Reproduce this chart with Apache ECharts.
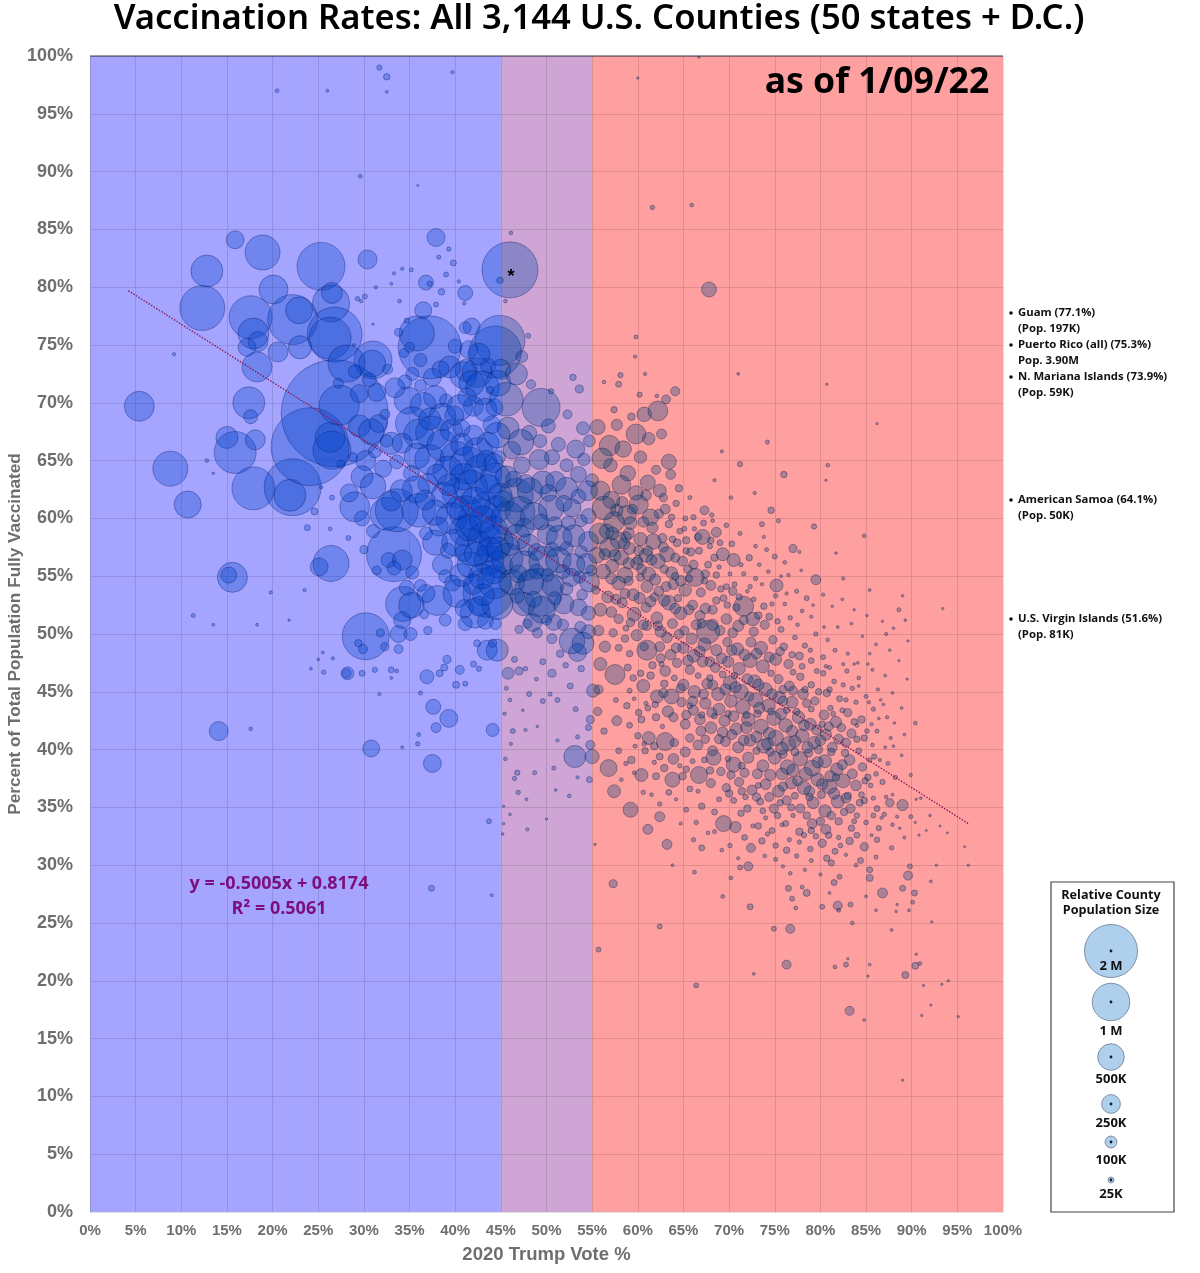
<!DOCTYPE html>
<html>
<head>
<meta charset="utf-8">
<title>Vaccination Rates</title>
<script src="https://cdn.jsdelivr.net/npm/echarts@6/dist/echarts.min.js"></script>
<style>
html,body{margin:0;padding:0;background:#fff;}
#main{width:1200px;height:1273px;}
</style>
</head>
<body>
<div id="main"></div>
<script>
// each county: [trump vote %, fully vaccinated %, population in thousands]
var bigCounties = [
[15.9,84.1,230],[18.9,83,872],[12.8,81.4,730],[25.3,81.8,1640],[30.4,82.4,257],[12.3,78.2,1440],[17.6,77.4,1316],[20.1,79.8,600],[22.2,77.2,1780],[22.9,78,520],[26.4,78.6,975],[26.5,79.5,314],[26.8,75.9,2150],[26.3,75.6,1256],[17.9,76,684],[18.4,75.3,285],[17.2,74.8,230],[20.6,74.4,285],[23,74.8,377],[18.3,73.1,640],[5.4,69.7,640],[17.4,70,730],[17.6,68.8,140],[15,67,345],[15.9,65.7,1256],[18.1,66.8,285],[8.8,64.3,872],[10.7,61.2,520],[17.9,62.6,1316],[22.2,62.7,2310],[21.9,62,730],[26.8,69.1,8150],[24.1,66.2,4330],[27.3,69.8,1140],[26.3,67,640],[26.5,65.9,1028],[31,73.7,1028],[28.1,73.4,975],[30.9,73.4,520],[37.2,74.8,2826],[35.8,76,872],[44.4,74.4,1925],[44.9,75.4,1780],[36.5,78,205],[37.9,84.3,230],[41.8,76.6,205],[41.1,79.5,160],[36.8,80.4,160],[46,81.5,2233],[40.9,72.4,520],
[33.3,56.9,2150],[30.2,49.8,1570],[34.3,52.6,872],[37.8,57.9,445],[38,52.9,640],[43.6,53.6,1780],[49.1,53.6,1640],[40.7,55.1,377],[40.2,53.5,558],[42.2,51.8,640],[32.7,56.4,160],[32.5,60.4,775],[33.6,60.7,1316],[29,61,640],[42,57.5,975],[42.7,59.8,1316],[44.6,48.6,345],[43.5,48.6,285],[33.8,50,205],[26.4,56.1,920],[25.1,55.8,230],[15.6,54.9,640],[15.2,55.1,182],[67.8,79.8,160],[49.4,69.6,1028],[53.1,39.4,345],[14.1,41.6,257],[30.8,40.1,205],[37.5,38.8,230],[37.6,43.7,160],[39.3,42.7,230],[37.9,41.9,71],[44.1,41.7,120],[36.9,46.3,140],[28.2,46.6,120]
];
var blueCluster = [
[29.5,68,345],[30.8,67.5,460],[31.6,68.2,230],[33,66.5,345],[30.2,65,285],[32.1,64.3,205],[29.8,63.6,345],[31,62.8,460],[28.4,62.2,230],[34.8,70.2,520],[35.3,68.2,800],[36.5,69.8,460],[37.8,70.5,377],[36,67.3,640],[37.5,67.4,800],[38.6,68.8,520],[34.2,66.5,285],[35.8,65.4,460],[37.2,65.1,640],[38.6,66.3,700],[39.6,67.6,345],[40.2,65.2,800],[41.4,64.6,975],[39.2,64.1,640],[42.5,65.7,640],[43.6,66.5,345],[44.6,67.2,460],[43,63.9,1028],[44.4,63.5,640],[41.7,62.7,800],[40.2,62.2,640],[38.8,62,460],[37,63,285],[35.7,62.5,520],[34.1,62.4,345],[33,61.5,285],[36,60.7,800],[37.8,60.5,460],[39.6,60,700],[41.2,60.5,800],[43.4,61,640],[44.6,60.8,520],[41,58.9,640],[43.2,58.2,800],[44.5,58,800],[40,57.9,520],[38.6,56,285],[41.6,56,460],[43.7,56.4,640],[44.8,56,520],[42.9,55,460],[44.3,54.5,800],[44.6,52.6,700],[41,52.2,230],[42.6,52.4,285],[36.8,53.5,230],[35.2,52.5,460],[34.2,51.2,205],[34.7,54,160],[35.3,55.3,120],[34.2,56.4,285],[33.3,55.7,140],[31.4,55.5,58],[40.5,46.9,58],[39.1,47.8,46],[41.2,72.8,345],[42.4,72.6,640],[41.8,71.7,460],[43,71.3,800],[44.7,71.7,460],[39.4,73.1,345],[38.4,72.9,205],[37.5,72.2,230],[35.3,72.5,120],[34.5,71.8,140],[33.4,71.3,285],[31.4,70.9,230],[30.6,72,140],[29.5,70.8,230],[29,72.7,120],[27.2,71.7,71],[32.6,72.9,71],[34.4,74.3,58],[33.8,76.1,46],[36.2,73.7,120],[35,74.8,71],[40,74.9,140],[41.5,74.6,230],[42.6,74.2,345],[43.6,73.2,160],[45,72.9,285],[39,70.2,120],[40.5,69.6,460],[42,69.7,285],[43.3,69.4,377],[44.3,69.6,205],[44.8,65.3,120],[42,67.2,285],[40.7,67.8,205],[36.2,71.5,100],[32.3,69,71],[31.2,65.8,120],[28.8,65.3,58],[27.5,64.7,46],[26.5,61.8,18],[29.8,60,160],[31,58.9,120],[30,57.3,46],[28.3,58.3,18],[23.8,59.2,26],[24.6,60.6,35],[39.7,54.4,180],[38.9,55,120],[36.2,54.2,100],[36.6,51.7,58],[35.1,50,120],[37,50.3,46],[38.9,51.2,100],[41.1,50.9,140],[43.3,51.1,180],[44.4,50.9,100],[44.1,49.2,46],[42.4,49.2,35],[42,47.4,26],[41.1,45.7,18],[42.6,47,20],[40.1,45.6,35],[38.3,46.6,35],[38.8,47.1,35],[36.2,44.9,12],[36,41.3,11],[35.9,40.5,14],[34.2,40.2,6],[33,46.9,26],[33.8,48.7,58],[32.3,48.9,46],[31.8,50.1,46],[29.9,48.7,60],[29.4,49.2,40],[25.6,46.7,14],[26.6,47.9,8],[25.5,48.4,6],[28.1,46.6,60],[29.8,46.6,26],[31.2,46.9,20],[31.7,44.8,8],[33,46.2,6],[33.6,46.8,10],[24.2,47,6],[25,47.8,6],[19.8,53.6,8],[23.5,53.8,8],[41.1,76.5,100],[43.8,71.1,40],[38.5,79.6,30],[39.8,82.1,26],[35.2,81.5,12],[33.3,81.2,8],[34.2,81.6,8],[33,80.3,6],[31.3,80,8],[30.1,79.2,18],[29.3,79,14],[29.7,78.8,8],[31,76.8,4],[28.9,75,6],[33.9,78.8,10],[34.7,77.1,20],[37.9,78.5,18],[37.2,80.3,20],[39,81.1,18],[38.2,82.6,12],[40.4,80.5,8],
[40.9,63.6,500],[42.2,61.4,640],[43.6,62.7,460],[44.9,62,420],[40.3,60.9,380],[41.5,59.2,500],[43,59.9,520],[44.2,59,560],[42.3,56.9,420],[43.8,57.3,440],[44.7,57.4,380],[42,54.3,300],[43.1,53.4,340],[44.2,55.4,420],[38,63.8,300],[39.3,62.9,340],[36.7,61.6,280],[38.2,59.3,260],[40.7,66.4,340],[43.4,65,300],[44.2,64.8,260],[37.2,68.6,340],[39.9,68.9,260],[41.3,70.5,240],[44,68.1,220],[35.2,63.9,180],[33.6,64.9,140],[32.5,66.7,110],[36.8,58.7,120],[39.2,57.2,160],[40.9,57,200]
];
var swingCounties = [
[45.6,70.3,800],[46.7,72.5,345],[48,75.8,18],[47.3,74,100],[48.3,71.6,60],[45.8,67.8,345],[47.2,66.6,460],[49.3,66.7,120],[50.2,68,140],[52.3,69,58],[53.6,71.2,46],[52.9,72.2,30],[50.5,71,20],[54,67.8,120],[53.2,66,230],[51.3,66.4,140],[54.7,66.7,100],[49.2,65.1,285],[47.3,64.6,200],[45.6,63.6,345],[46.7,62,800],[48.2,62.4,460],[49.6,63.1,377],[51,63.2,285],[52.2,62.6,345],[53.5,63.8,180],[54.5,62.4,285],[50.5,60.9,460],[52.8,60.9,230],[54.6,60.2,160],[45.8,60,800],[47.1,60.6,640],[48.6,60.2,520],[46.8,58.4,460],[48,57.7,345],[50.1,58.6,285],[51.4,58.3,460],[53,58.5,345],[54.6,58,285],[45.7,56.5,700],[47.6,55.9,640],[49.7,56.3,640],[51.3,56.4,460],[53,56,345],[54.4,56.1,285],[46.2,54.5,460],[48.3,54.5,460],[50.7,54.2,345],[52.7,54.9,230],[54.7,54.5,285],[47.5,52.6,377],[49.5,52.1,520],[51.9,52.6,285],[53.5,52.3,200],[54.6,51.8,140],[48.5,51,230],[50.8,51,180],[52.8,49.4,460],[54,49.2,345],[53.4,48.4,230],[54.6,50.2,140],[47,50.4,46],[49,50.1,71],[50.6,49.6,71],[45.8,46.6,100],[47,46.8,46],[46.5,47.8,26],[50.6,46.6,46],[52.6,45.5,26],[55.1,45.1,120],[48.1,44.8,18],[50.4,44.8,12],[49.6,44.2,18],[51.2,44.3,18],[53.2,43.5,18],[54.8,42.6,46],[54.6,41.9,26],[53.4,41.1,12],[54.8,40.4,60],[55,39.4,140],[54.7,37.4,26],[50.8,38.4,12],[48.7,38,12],[46.8,38,20],[46.5,37.5,14],[46.9,36.3,14],[47.8,35.7,6],[45.3,35.1,4],[46,34.4,5],[50,34,4],[45.3,33.6,5],[51,36.5,5],[53.4,37.6,8],[52.5,36,10],[46.3,41.6,18],[46.1,40.5,8],[45.5,39.2,10],[47.7,41.7,8],[49,42,5],[51.2,40.8,8],[45.4,43.1,8],[46,44.3,10],[47.4,43.4,5],
[46.2,65.9,220],[48.1,67.4,160],[50.6,65.3,160],[52.2,64.6,120],[54.1,65.1,110],[46.4,63.4,180],[47.7,63,240],[50.2,62.2,200],[51.9,61.3,180],[53.5,61.9,150],[55,63.3,120],[45.3,61.5,300],[47.6,59.2,240],[49.4,59.7,180],[50.9,59.5,160],[52.4,59.6,140],[53.8,59.8,100],[46,57.6,260],[48.9,57.1,200],[50.6,57.3,150],[52.2,57.4,130],[53.8,57.1,110],[46.9,55.2,220],[48.9,55.4,160],[50.1,55.1,120],[51.8,55.4,140],[53.6,54.9,100],[54.9,55.5,80],[46.8,53.3,150],[48.6,53,180],[50.9,53.1,120],[52.2,53.9,110],[53.9,53.4,80],[47.9,50.9,60],[50,51.2,70],[51.8,50.8,90],[53.7,50.6,90],[51.5,48.3,40],[49.6,47.6,26],[52.1,47.3,22],[53.8,47,30],[47.7,47,14],[48.9,46.1,10],[45.6,45.3,12]
];
var redCounties = [
[55.6,67.9,160],[56.9,66.3,300],[57.7,68.1,90],[58.4,66,190],[59.8,67.3,280],[60.7,69,150],[61.2,66.9,110],[62.2,69.3,280],[63.1,70.3,55],[60.2,70.7,20],[58.1,72.4,20],[57.9,71.6,26],[57.4,69.4,28],[56.3,71.8,10],[59.3,68.8,40],[62.6,67.3,70],[63.4,64.9,160],[62,64.2,60],[60.3,65.3,110],[58.9,63.9,170],[57,64.6,130],[56.1,65.2,300],[55.9,62.4,260],[57.1,61.6,210],[58.2,62.9,250],[59.8,62.2,150],[61.1,63.1,160],[62.4,62.4,120],[63.6,63.8,70],[64.2,61.3,30],[65.7,61.8,12],[67.3,60.7,55],[68.1,60.3,14],[66.1,60.1,20],[63,60.8,70],[61.4,60.1,190],[60.1,61.2,260],[58.8,60.3,260],[57.4,59.7,300],[56.3,60.9,400],
[55.8,58.7,300],[56.6,58.9,150],[57.9,58.1,200],[59.2,59.6,120],[60.3,58.2,130],[61.6,59.2,90],[62.7,58.3,60],[63.4,59.5,40],[64.6,58.9,25],[65.2,60,18],[66.6,58.4,40],[67.2,59.6,25],[68.6,58.8,70],[69.7,59.4,16],[70.3,57.8,25],[71.2,58.7,12],[65.8,57.1,50],[64.3,57.9,45],[63.2,56.9,160],[61.7,58,170],[60.9,56.8,130],[59.1,57.4,100],[58.2,56.6,150],[56.9,57.5,280],[55.5,56.8,180],[56.2,55.4,150],[57.2,55.9,120],[58.6,55.1,170],[59.9,56.1,110],[61.2,55.2,130],[62.2,56.3,150],[63.7,55.3,100],[64.9,56.3,70],[66.3,54.9,230],[67.1,58.4,160],[65.5,55.6,50],[67.7,56,35],[68.6,55.1,30],[69.3,56.9,120],[70.5,56.4,120],[72.2,56.6,30],[71.6,55.2,14],[73.3,56,10],[74.1,57.3,12],[75,56.7,18],[75.2,54.2,120],[76.1,56.2,10],[77,57.4,46],[76.5,55.1,8],[74.3,55.4,10],[72.9,54.8,14],[70.6,54.3,18],[69.1,53.9,30],[68,54.2,70],[66.9,53.6,60],[65.2,53.8,110],[63.9,54.3,80],[62.3,53.7,70],[61,54.1,100],[59.5,53.4,100],[57.9,54.4,130],[56.7,53.2,100],[55.4,53.8,50],[55.9,52.1,120],[57.1,51.9,80],[58.3,52.7,70],[59.6,51.7,140],[60.9,52.3,70],[62.1,51.4,100],[63.4,52.7,150],[64.7,51.8,110],[66,52.5,70],[67.4,52.2,80],[68.6,52.9,40],[69.8,52.5,30],[71.6,52.4,285],[70.4,53.7,50],[72.7,53,16],[73.8,52.4,30],[75.1,53.3,14],[76.1,52.6,10],[77.4,53.7,12],[78.5,53.1,18],[79.5,54.7,71],[80.3,53.4,8],[78,52,10],[76.7,51.4,14],[75.3,51.1,22],[73.9,50.8,60],[72.6,51.3,130],[71,50.7,90],[69.7,51.3,80],[68.2,50.8,90],[67.7,50.2,377],[66.4,50.8,70],[65.1,50.3,60],[63.8,50.9,70],[62.5,50.2,90],[61,50.7,60],[59.9,49.9,90],[58.7,50.5,25],[57.3,50.1,50],[55.7,50.3,80],[56.4,48.9,90],[57.9,48.8,35],[59.1,48.3,30],[61,48.6,285],[62.4,48.9,70],[63.6,48.2,80],[65,48.8,90],[66.1,48.1,110],[67.3,49.1,120],[68.6,48.6,90],[69.8,49.3,60],[70.9,48.7,110],[72.4,49.3,70],[73.5,48.8,120],[74.8,49.5,50],[76,48.9,40],[77.2,49.7,16],[78.3,49,20],[79.5,50,14],[80.8,49.5,10],[81.9,50.6,6],[83.4,50.9,6],[84.6,49.8,5],[86.1,49.1,6],[83,48.3,8],[81.6,48.6,12],[80.3,48,18],[79,47.7,25],[77.7,48.1,45],[76.5,47.4,60],[75.1,47.8,100],[73.7,47.2,120],[72.3,47.7,140],[71.1,47,110],[69.9,47.6,90],[68.5,47.1,70],[67.1,47.6,80],[65.7,46.9,60],[64.3,47.5,60],[63,46.8,80],[61.6,47.3,40],[60.3,46.6,30],[58.9,47.1,35],[57.5,46.5,285],[55.9,47.4,120],[55.7,45.2,60],[60.6,45.5,120],[62.1,44.6,120],[63.7,44.6,160],[59.1,45.1,18],[57.6,44.3,18],[58.8,43.8,30],[61.1,43.6,25],[62.9,45.7,40],[65,45.6,90],[66.2,45,110],[67.6,45.7,80],[68.8,44.8,120],[70.1,45.8,130],[71.3,45,150],[72.8,45.9,120],[74,45.2,130],[75.4,46.1,60],[76.6,45.5,70],[77.8,46.3,40],[79,45.6,30],[80.3,46.6,22],[81.5,45.9,16],[82.9,46.8,14],[84.2,46.2,10],[85.7,46.9,7],[87.1,46.4,6],[88.6,47.7,4],[89.5,46.1,4],[87.9,44.9,6],[86.3,45.2,8],[85,44.6,12],[83.5,45.3,14],[82.1,44.4,26],[80.7,44.9,40],[79.4,44.2,50],[78.1,44.8,80],[76.9,44.1,100],[75.5,44.5,110],[74.3,43.8,120],[72.9,44.3,150],[71.5,43.7,150],[70.2,44.2,110],[68.9,43.5,100],[67.4,44,90],[66.1,43.4,70],[64.8,44.1,60],[63.3,43.3,90],[62,42.8,40],[60.4,42.6,35],[59.1,42.1,25],[57.7,42.5,70],[56.3,41.6,30],[55.6,43.3,50],[63,40.7,230],[61.2,41,120],[65.2,42.2,70],[66.8,42.6,80],[68,41.9,100],[69.5,42.5,90],[70.8,41.8,100],[72.1,42.6,130],[73.5,42,150],[74.9,42.7,140],[76.2,42.1,130],[77.6,42.8,110],[78.9,42.2,100],[80.4,43,70],[81.7,42.4,90],[83,43.2,50],[84.5,42.6,40],[85.8,43.5,14],[87.3,42.8,8],[88.9,43.6,6],[90.4,42.3,10],[89.2,41.3,6],[87.7,41,8],[86.2,41.6,12],[84.8,41,30],[83.4,41.4,60],[82,40.9,70],[80.6,41.3,90],[79.3,40.6,110],[78,41.2,130],[76.5,40.5,150],[75.1,41,170],[73.8,40.3,140],[72.3,40.8,100],[71,40.2,90],[69.6,40.7,70],[68.2,39.9,70],[68.3,39.3,160],[66.6,40.4,70],[65.2,39.8,70],[63.9,39.2,80],[62.4,39.4,35],[60.8,39.9,30],[59.3,39.1,40],[57.9,39.9,25],[56.8,38.4,205],[60.4,37.8,120],[63.8,37.4,160],[66.7,37.8,205],[70.5,38.7,160],[65.3,38.3,30],[62,37.7,35],[72.1,39.3,90],[73.7,38.6,100],[75,39.3,120],[76.4,38.5,150],[77.8,39.2,150],[79.1,38.4,180],[80.5,39,120],[81.8,38.3,110],[83.2,39.1,80],[84.6,38.5,50],[85.9,39.4,20],[87.4,38.8,12],[88.9,39.5,6],[89.9,37.8,8],[88.2,37.6,14],[86.8,37.2,20],[85.2,37.6,30],[83.9,36.9,80],[82.5,37.3,140],[81,36.8,150],[79.7,37.4,120],[78.2,36.7,130],[76.8,37.1,100],[75.4,36.4,100],[74,37,80],[72.5,36.5,70],[71.1,37.2,60],[69.7,36.7,50],[68,37.1,60],[65.7,36.6,25],[63.4,36.3,25],[57.4,36.4,120],[59.2,34.8,160],[62.4,34.2,71],[61.1,33.1,71],[63.2,31.8,71],[69.4,33.6,182],[70.7,33.3,90],[68.4,34.6,25],[67,35.1,30],[65.3,34.8,18],[72,34.9,40],[73.4,35.5,35],[74.9,34.9,60],[76.3,35.6,60],[77.8,34.9,60],[79.2,35.4,100],[80.5,34.7,110],[81.9,35.5,120],[83.3,34.9,60],[84.8,35.6,30],[86.2,34.9,25],[87.6,35.4,50],[89,35.2,90],[89.9,34.2,12],[91,35.8,5],[92,34.3,5],[93.1,33.4,3],[87.9,33.5,10],[86.4,33.2,20],[85,33.7,16],[83.4,33.2,30],[82,33.8,40],[80.6,33.1,70],[79.1,33.6,70],[77.7,32.9,40],[76.2,33.6,25],[74.7,33,25],[73.2,33.4,30],[71.7,32.4,24],[66.1,32.2,14],[67,31.5,26],[68.4,32.9,12],[70.1,31.7,14],[72.4,31.5,58],[73.6,32.1,30],[75.1,31.7,22],[76.3,31.3,30],[77.7,32,14],[78.9,31.4,22],[80.2,31.9,50],[81.6,31.2,26],[83.2,32.1,40],[84.8,31.6,50],[86.2,32.2,22],[87.8,31.5,14],[89.2,32.4,7],[90.8,32.6,4],[93.9,32.8,3],[95.8,31.6,3],[86.1,30.7,12],[84.4,30.4,26],[82.8,30.9,8],[80.7,30.6,30],[79,30.4,12],[77.4,30.8,14],[75.1,30.5,12],[75.9,29.9,8],[78.3,29.6,8],
[60,56.4,60],[62.9,55.6,50],[64.1,55,40],[65.3,57.2,30],[67.9,57.6,20],[69,57.9,25],[71.3,56,14],[72.9,57.6,10],[73.8,58.4,8],[58.7,58.4,80],[61.1,57.2,70],[63.8,58.2,30],[66.2,59.1,14],[68.2,59.8,10],[56.4,56.9,90],[57.6,53,70],[59,54.6,60],[60.3,54.9,45],[61.8,53.2,50],[64.4,53.1,40],[65.6,54.8,40],[67.3,54.6,30],[68.9,55.8,14],[70.1,55.2,12],[72,53.7,10],[73.6,54.3,8],[75.7,55,6],[77.9,55.5,6],[79.2,52.5,6],[81.3,52.4,5],[82.4,53,6],[83.7,52.1,4],[85.1,51.6,5],[86.8,51.1,4],[88,50.5,5],[89.6,49.4,4],[87.6,48.6,5],[85.4,48.3,6],[84.1,47.5,6],[82.5,47.4,8],[81,47.1,12],[79.6,46.8,18],[78.3,45.2,30],[77,46.7,25],[75.9,45.2,50],[74.6,46.6,30],[72.2,44.6,60],[70.6,46.4,30],[69.3,46.5,35],[67.9,46.2,30],[66.6,46.4,25],[64,46.2,25],[62.6,47.4,20],[60.9,44,12],[59.6,44.4,10],[65.7,43.8,25],[67,43,30],[68.4,42.9,25],[69.9,43.1,30],[71.9,43,35],[73.1,43.1,40],[74.6,43.3,35],[76.3,43.4,30],[77.4,43.3,30],[79,43.5,25],[80.2,42.2,30],[81.1,43.6,22],[82.4,43.4,18],[83.9,44.1,14],[85.3,44.1,8],[86.9,43.9,5],[84,42.1,12],[85.6,42.2,8],[87.1,40.2,6],[85.7,40.4,10],[84.2,39.9,25],[82.7,39.7,40],[81.2,39.8,40],[79.8,40,50],[78.7,39.7,50],[77.2,39.8,45],[75.9,39.6,50],[74.5,39.8,50],[73,39.9,40],[71.4,38.6,35],[69.9,39.2,25],[67.3,39.1,25],[66,39,18],[64.6,38.6,14],[61.8,38.9,14],[59.6,38,10],[58.2,37.4,10],[61.5,36.1,10],[64.2,35.7,8],[66.6,36.4,12],[68.9,35.7,18],[70.5,35.6,25],[71.8,35.9,22],[73.2,36.9,25],[75.6,35.4,30],[77.2,36,35],[78.8,35.9,40],[80.1,36.1,45],[81.7,37.6,40],[83,36,40],[84.5,36.1,25],[85.8,35.8,14],[87.2,35.9,10],[88.4,34.2,8],[85.6,32.6,7],[82,32.4,14],[79.5,32.5,22],[77,34.3,14],[75.8,33.5,12],[74,34.1,12],[72.6,33.4,12]
];
var redCore = [
[58.3,61.4,90],[59.4,60.8,70],[60.9,62,80],[62.8,61.8,50],[64.5,62.6,40],[57.7,60.7,110],[59,58.7,90],[60.6,59.7,80],[62.3,60.4,60],[57.2,58.7,120],[58.5,57.8,90],[60.1,57.2,70],[61.5,56.4,80],[62.8,57.5,70],[64.1,56.6,60],[65.3,58.1,40],[66.7,57.2,35],[68,58.1,30],[57.5,56.8,100],[59,56.1,90],[60.4,55.6,70],[61.9,54.7,90],[63.1,54.1,70],[64.7,54.6,80],[66.1,56,60],[67.4,55.2,50],[68.4,56.6,40],[57.1,54.8,90],[58.6,53.5,70],[60.2,53.1,90],[61.4,52.8,80],[62.9,52.9,90],[64.1,52.2,80],[65.6,52.1,70],[66.8,51.6,70],[68.2,52.1,60],[69.4,53.1,35],[70.8,52.3,40],[57.9,51.3,60],[59.2,51,50],[60.6,50.8,70],[62.2,50.7,60],[63.2,49.7,80],[64.5,50,60],[65.9,49.6,90],[67,50.9,60],[69,50.3,70],[70.4,50.1,70],[71.6,51.2,60],[72.7,50.2,60],[74.4,51.5,35],[75.7,50.4,25],[58.6,49.6,40],[60.7,48.9,50],[62.5,47.9,60],[64.2,48.8,70],[65.5,47.7,80],[66.8,48.5,80],[67.9,47.6,70],[69.2,47.9,80],[70.3,48.6,80],[71.7,48.2,90],[73,48.3,80],[74.4,48,70],[75.6,48.5,50],[76.9,48.2,30],[78,47.2,25],[59.5,46.2,30],[61.4,46.4,40],[62.8,44.9,60],[64.7,45.3,60],[66,44.2,70],[67.2,44.8,70],[68.2,45.6,70],[69.6,45.2,90],[70.7,45.4,90],[72,46.1,80],[73.2,45.6,90],[74.7,44.8,80],[75.9,44.2,70],[77,45.1,60],[78.5,44,50],[79.8,45,30],[81,45.2,22],[82.5,45.6,14],[60.1,43.2,30],[61.9,43.9,30],[63.9,42.8,60],[65.3,43,60],[66.9,41.6,70],[68.1,43.2,70],[69.3,41.5,80],[70.5,42.9,80],[71.9,41.9,100],[73.3,43.6,90],[74.4,41.4,100],[75.7,43.1,90],[76.9,41.6,90],[78.2,42.1,80],[79.6,41.7,70],[80.9,42,60],[82.3,41.9,50],[83.7,42.4,30],[85.1,41.6,16],[60,41.2,30],[61.8,40.3,40],[64,40.6,50],[65.7,41,50],[67.4,40.9,50],[68.9,40.9,60],[70.3,41.3,70],[71.6,40.8,80],[73,41.1,90],[74.2,40.5,100],[75.8,40.1,110],[77.2,40.7,100],[78.6,40.2,90],[80,40.8,80],[81.3,40.2,70],[82.8,40.6,60],[84,40.9,30],[85.4,39.1,16],[62.9,38.4,40],[64.9,37.7,40],[67.9,38.2,40],[69.1,38.1,50],[70.2,37.8,50],[71.7,38,60],[73.1,37.9,70],[74.5,37.8,90],[75.8,37.9,100],[77,38.2,110],[78.4,37.9,120],[79.7,38.9,90],[81.1,37.7,90],[82.4,38.7,70],[83.5,37.9,70],[84.9,37.3,30],[86.1,37.9,16],[70,36.2,40],[71.4,36.4,40],[73,35.9,50],[74.4,35.9,60],[75.9,36.8,60],[77.5,37.3,70],[78.8,36.4,80],[80.2,37,90],[81.5,36.2,90],[82.8,35.8,70],[84.3,35.4,35],[85.5,36.9,16],[71.3,34.5,30],[73.7,34.7,25],[75.3,34.3,30],[76.8,35,35],[78.5,34.3,40],[80,33.8,50],[81.2,34.3,50],[82.6,34.6,40],[84,34.3,22],[85.8,34.3,18],[87,34.4,14],[79,33,30],[80.9,32.6,30],[83.7,33.8,18],[74.2,32.7,14],[76.6,32.2,14],[78.2,32.6,20],[82.2,31.7,16],[84,32.6,25],
[63.7,60.1,30],[65.1,59.1,18],[69.7,54.1,25],[71.1,53.2,30],[72.3,54.1,14],[73.2,51.6,40],[74.7,52.6,14],[76.3,53.5,8],[77.5,50.8,10],[79,51.5,8],[80.4,50.6,6],[78.9,48.6,14],[80.6,47.2,10],[83.7,47.4,5],[85.2,47.4,5],[84.2,45.5,6],[86.6,44.3,5],[82.8,44.3,14],[81.4,43.1,18],[86.4,42.7,6],[88.1,42.3,5],[86.5,39.1,8],[88,40.3,5],[87.9,36.1,6],[86.7,34.1,8],[88.7,33.2,5],[90.4,33.7,4],[90.5,35.7,4],[91.6,33,3],[60.7,40.5,16],[62.7,42,14],[59.7,40.3,12],[58.7,38.8,14],[60.6,36.3,14],[62.4,35.3,14],[64.7,33.6,8],[66.4,33.7,14],[67.7,32.8,10],[69.2,31.3,10],[71,30.6,8],[73.9,30.8,10],[76.7,29.3,10],[80,29.2,8]
];
var sparseCounties = [
[72.1,29.9,58],[71.2,29.8,18],[57.3,28.4,46],[63.8,30,6],[66.2,29.4,11],[70.2,28.9,11],[69.3,27.3,11],[72.3,26.4,26],[76.5,28,26],[76.9,27.1,18],[77.3,26.3,11],[78.5,27.6,35],[78,28.1,11],[80.2,26.4,18],[81.9,26.5,58],[82,26.1,11],[83.3,26.6,18],[81.5,28.5,26],[82.1,29,18],[81,27.6,6],[86.8,27.6,71],[89,28,26],[90.3,27.6,26],[89.6,29.1,58],[89.8,29.9,18],[85.4,28.9,35],[85.4,29.6,26],[83.9,30,11],[81.2,30.2,26],[92.1,28.6,6],[92.7,30,4],[96.2,30,4],[90.1,26.8,11],[88.4,26.6,4],[88.3,26,4],[89.7,26.1,6],[86.1,26.1,6],[85,27.3,6],[92.2,25.1,4],[87.8,24.4,6],[83.5,25,11],[74.9,24.5,18],[76.7,24.5,58],[62.4,24.7,18],[55.7,22.7,18],[76.3,21.4,58],[81.6,21.2,11],[82.8,21.4,18],[83,21.9,4],[85.4,21.4,6],[85.2,20.4,4],[90.4,21.3,35],[90.9,21.5,11],[90.5,22.3,4],[89.3,20.5,35],[72.7,20.6,6],[66.4,19.6,18],[91.3,19.6,4],[93.3,19.7,4],[94,20,4],[83.2,17.4,58],[84.8,16.6,6],[92.1,17.9,4],[91.1,17,4],[95.1,16.9,4],[89,11.4,4],
[61.6,86.9,14],[65.9,87.1,10],[59.8,75.7,12],[60,98.1,4],[66.7,99.9,4],[71,72.5,6],[80.7,71.6,4],[86.2,68.2,4],[74.2,66.6,12],[80.8,64.6,10],[80.6,63.3,4],[76,63.8,30],[71.2,64.7,20],[84.8,58.5,10],[81.7,57,5],[93.4,52.2,4],[88.6,52.1,12],[89,53.3,5],[89.3,51.2,5],[87.2,50,8],[85.4,53.8,6],[82.5,54.8,8],[77.7,57.1,8],[79.3,59.3,20],[74.6,60.7,30],[75.4,59.8,12],[73.6,59.5,18],[72.8,62.2,8],[70.2,61.8,10],[68.4,63.3,8],[69.2,65.8,8],[64.1,71,60],[62.1,70.6,10],[60.8,72.5,8],[59.7,74,8],
[20.5,97,10],[26,97,6],[31.7,99,20],[32.5,98.2,30],[32.5,96.9,6],[39.7,98.6,8],[29.6,89.6,10],[35.9,88.8,3],[9.2,74.2,8],[46.1,84.7,10],[39.3,83.3,14],[11.3,51.6,12],[13.5,50.8,6],[18.3,50.8,6],[21.8,51.2,4],[17.6,41.8,10],[12.8,65,10],[13.5,63.9,5],[37.4,28,26],[43.7,33.8,18],[44,27.4,6],[47.9,33.1,8],[45.2,32.7,5],[55.3,31.8,4],[26.3,59.1,10],[25.3,62.7,8],[45.5,78.8,10],[44.9,80.6,30],[41,78.6,8]
];
var bandStarts = [0, 45, 55];
var bandEnds = [45, 55, 100];
var trendVotes = [4.2, 96.2];
var trendRates = [79.7, 33.6];
var legendSizes = ['2 M', '1 M', '500K', '250K', '100K', '25K'];
var legendPops = [2000, 1000, 500, 250, 100, 25];
var sideNotes = ['Guam (77.1%)', '(Pop. 197K)', 'Puerto Rico (all) (75.3%)', 'Pop. 3.90M', 'N. Mariana Islands (73.9%)', '(Pop. 59K)', 'American Samoa (64.1%)', '(Pop. 50K)', 'U.S. Virgin Islands (51.6%)', '(Pop. 81K)'];
var sideNoteRows = [313, 329, 345, 361, 377, 393, 500, 516, 619, 635];

function bubbleSize(pop) {
    return 53 * Math.sqrt(pop / 2000);
}

var bandColors = ['#a5a5ff', '#cfa5d5', '#ffa0a0'];
var sideFont = '700 11.35px "Open Sans", sans-serif';
var graphics = [
    {type: 'line', shape: {x1: 90, y1: 56, x2: 1003, y2: 56}, style: {stroke: '#3a3a55', lineWidth: 1}, z: 20},
    {type: 'text', z: 20, style: {text: 'Vaccination Rates: All 3,144 U.S. Counties (50 states + D.C.)', x: 599, y: 19, align: 'center', verticalAlign: 'middle', font: '600 34.6px "Noto Sans", sans-serif', fill: '#000'}},
    {type: 'text', z: 20, style: {text: 'as of 1/09/22', x: 877, y: 83, align: 'center', verticalAlign: 'middle', font: '700 35.5px "Noto Sans", sans-serif', fill: '#000'}},
    {type: 'text', z: 20, style: {text: 'y = -0.5005x + 0.8174', x: 279, y: 884, align: 'center', verticalAlign: 'middle', font: '700 18px "Open Sans", sans-serif', fill: '#7b0f7d'}},
    {type: 'text', z: 20, style: {text: 'R² = 0.5061', x: 279, y: 909, align: 'center', verticalAlign: 'middle', font: '700 18px "Open Sans", sans-serif', fill: '#7b0f7d'}},
    {type: 'text', z: 20, style: {text: '*', x: 511, y: 277, align: 'center', verticalAlign: 'middle', font: '700 18px "Liberation Sans", sans-serif', fill: '#000'}},
    {type: 'rect', z: 18, shape: {x: 1051, y: 882, width: 123, height: 330}, style: {fill: '#fff', stroke: '#444', lineWidth: 1.2}},
    {type: 'text', z: 20, style: {text: 'Relative County', x: 1111, y: 895, align: 'center', verticalAlign: 'middle', font: '700 12.6px "Open Sans", sans-serif', fill: '#111'}},
    {type: 'text', z: 20, style: {text: 'Population Size', x: 1111, y: 910, align: 'center', verticalAlign: 'middle', font: '700 12.6px "Open Sans", sans-serif', fill: '#111'}}
];
var legendCy = [951, 1002, 1057, 1104, 1142, 1180];
var legendLabelY = [966, 1031, 1079, 1123, 1160, 1194];
legendSizes.forEach(function (label, i) {
    graphics.push({type: 'circle', z: 19, shape: {cx: 1111, cy: legendCy[i], r: bubbleSize(legendPops[i]) / 2}, style: {fill: '#aed0ec', stroke: '#7f8fa5', lineWidth: 1}});
    graphics.push({type: 'circle', z: 20, shape: {cx: 1111, cy: legendCy[i], r: 1.4}, style: {fill: '#0a1a40'}});
    graphics.push({type: 'text', z: 20, style: {text: label, x: 1111, y: legendLabelY[i], align: 'center', verticalAlign: 'middle', font: '700 13px "Open Sans", sans-serif', fill: '#111'}});
});
sideNotes.forEach(function (note, i) {
    if (i % 2 === 0) {
        graphics.push({type: 'circle', z: 20, shape: {cx: 1011, cy: sideNoteRows[i], r: 1.8}, style: {fill: '#111'}});
    }
    graphics.push({type: 'text', z: 20, style: {text: note, x: 1018, y: sideNoteRows[i], verticalAlign: 'middle', font: sideFont, fill: '#111'}});
});

var chart = echarts.init(document.getElementById('main'));
var axisGrey = '#6e6e6e';
var option = {
    animation: false,
    backgroundColor: '#fff',
    grid: {left: 90, right: 197, top: 56, bottom: 61, outerBoundsMode: 'none'},
    xAxis: {
        type: 'value', min: 0, max: 100, interval: 5,
        name: '2020 Trump Vote %', nameLocation: 'middle', nameGap: 33,
        nameTextStyle: {color: axisGrey, fontFamily: 'Liberation Sans', fontWeight: 'bold', fontSize: 18.5},
        axisLine: {show: false}, axisTick: {show: false},
        axisLabel: {formatter: '{value}%', color: axisGrey, fontFamily: 'Liberation Sans', fontWeight: 'bold', fontSize: 15, margin: 11},
        splitLine: {show: true, lineStyle: {color: '#e0e0e0', width: 1}}
    },
    yAxis: {
        type: 'value', min: 0, max: 100, interval: 5,
        name: 'Percent of Total Population Fully Vaccinated', nameLocation: 'middle', nameGap: 66, nameMoveOverlap: false,
        nameTextStyle: {color: axisGrey, fontFamily: 'Liberation Sans', fontWeight: 'bold', fontSize: 17.2},
        axisLine: {show: false}, axisTick: {show: false},
        axisLabel: {formatter: '{value}%', color: axisGrey, fontFamily: 'Liberation Sans', fontWeight: 'bold', fontSize: 18, margin: 17},
        splitLine: {show: true, lineStyle: {color: '#e0e0e0', width: 1}}
    },
    graphic: graphics,
    series: [
        {
            name: 'Counties',
            type: 'scatter',
            z: 2,
            silent: true,
            data: bigCounties.concat(blueCluster, swingCounties, redCounties, redCore, sparseCounties),
            symbolSize: function (val) { return bubbleSize(val[2]); },
            itemStyle: {color: 'rgba(0,100,200,0.32)', borderColor: 'rgba(15,45,110,0.38)', borderWidth: 1, opacity: 1}
        },
        {
            name: 'Bands',
            type: 'custom',
            z: 3,
            silent: true,
            data: bandStarts.map(function (s, i) { return [s, bandEnds[i], i]; }),
            encode: {x: [0, 1]},
            renderItem: function (params, api) {
                var a = api.coord([api.value(0), 100]);
                var b = api.coord([api.value(1), 0]);
                return {
                    type: 'rect',
                    shape: {x: a[0], y: a[1], width: b[0] - a[0], height: b[1] - a[1]},
                    style: {fill: bandColors[api.value(2)]}
                };
            }
        },
        {
            name: 'Trend',
            type: 'line',
            z: 4,
            silent: true,
            symbol: 'none',
            data: trendVotes.map(function (v, i) { return [v, trendRates[i]]; }),
            lineStyle: {color: '#8a1450', width: 1.3, type: [1.5, 1.5]}
        }
    ]
};
chart.setOption(option);

// the bands multiply over the bubbles and grid, the way the original overlays them
var zr = chart.getZr();
zr.storage.getDisplayList(true).forEach(function (el) {
    if (el.style && bandColors.indexOf(el.style.fill) >= 0) {
        el.style.blend = 'multiply';
        el.dirty();
    }
});
zr.refreshImmediately();
</script>
</body>
</html>
